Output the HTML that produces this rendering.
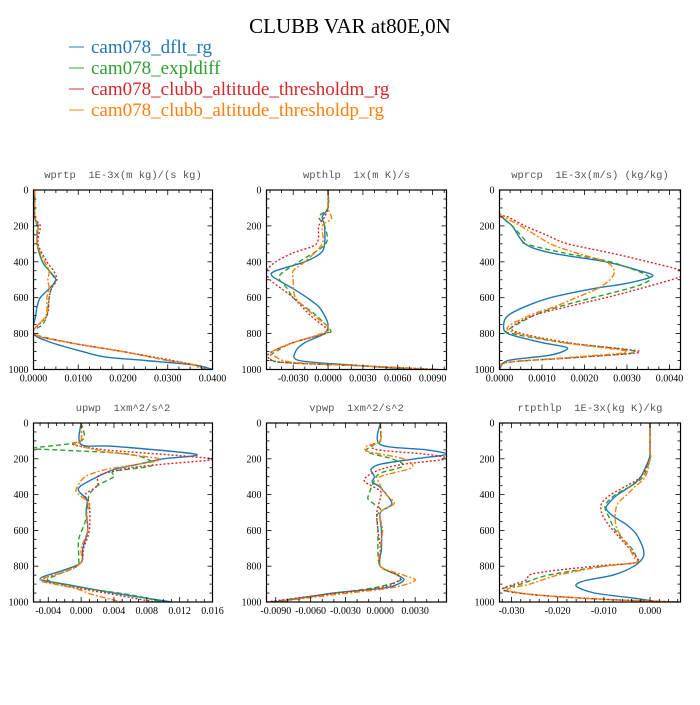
<!DOCTYPE html>
<html><head><meta charset="utf-8"><style>
body{margin:0;background:#fff;}
svg text{font-family:"Liberation Serif",serif;}
.pt{font-family:"Liberation Mono",monospace;font-size:10.5px;fill:#555;white-space:pre;}
.tk{font-size:10px;fill:#000;}
</style></head><body>
<svg id="fig" width="700" height="700" viewBox="0 0 700 700">
<rect width="700" height="700" fill="#fff"/>
<text x="350" y="33" text-anchor="middle" font-size="21">CLUBB VAR at80E,0N</text>
<g id="legend"></g>
<g id="panels"></g>
</svg>
<script>
const seriesNames=["cam078_dflt_rg","cam078_expldiff","cam078_clubb_altitude_thresholdm_rg","cam078_clubb_altitude_thresholdp_rg"];
const seriesColors=["#1f77b4","#2ca02c","#d62728","#ff7f0e"];
const seriesDash=["","5,3","2,2","6,2,2,2"];
const yTicks=[0,200,400,600,800,1000];

// Panel 1: wprtp
const p1Lev=[[0,150,200,300,400,450,500,550,600,650,700,800,850,900,930,950,975,1000],[0,150,200,300,400,450,500,550,600,700,750,800,850,900,950,975,1000],[0,150,200,300,400,450,500,550,600,700,800,850,900,950,975,1000],[0,150,200,300,400,450,500,550,600,700,800,850,900,950,975,1000]];
const p1Blue=[0.0003,0.0003,0.001,0.0008,0.002,0.0035,0.005,0.0035,0.0015,0.0008,0.0005,0,0.004,0.011,0.016,0.025,0.036,0.040];
const p1Green=[0.0003,0.0003,0.0008,0.0008,0.002,0.0035,0.0048,0.004,0.0035,0.003,0.002,0,0.008,0.020,0.030,0.036,0.038];
const p1Red=[0.0003,0.0003,0.0015,0.001,0.003,0.0045,0.0052,0.004,0.0035,0.003,0,0.008,0.020,0.031,0.036,0.039];
const p1Orange=[0.0003,0.0003,0.001,0.0008,0.0025,0.0035,0.0032,0.0035,0.003,0.0028,0,0.008,0.020,0.030,0.036,0.037];
const p1Ticks=[0,0.01,0.02,0.03,0.04];const p1Labels=["0.0000","0.0100","0.0200","0.0300","0.0400"];

// Panel 2: wpthlp
const p2Lev=[[0,100,150,200,300,350,400,450,480,550,600,650,700,750,800,850,900,950,975,1000],[0,100,150,200,300,400,480,550,600,650,700,780,800,850,900,930,960,980,1000],[0,100,150,200,300,350,400,450,500,550,600,700,780,800,850,900,930,960,980,1000],[0,100,160,200,300,400,450,500,600,700,780,850,900,930,960,980,1000]];
const p2Blue=[0,0,-0.0005,-0.0003,-0.0003,-0.0006,-0.002,-0.0045,-0.0048,-0.003,-0.0018,-0.0008,-0.0003,0,-0.0003,-0.002,-0.0028,-0.0025,0.002,0.0075];
const p2Green=[0,0,-0.0008,-0.0003,-0.0002,-0.0025,-0.0042,-0.0035,-0.003,-0.002,-0.001,0.0002,-0.0002,-0.003,-0.0045,-0.005,-0.004,0.003,0.009];
const p2Red=[0,0,-0.0003,-0.0008,-0.001,-0.003,-0.0045,-0.0053,-0.005,-0.004,-0.003,-0.0015,0,-0.0003,-0.003,-0.0048,-0.0052,-0.004,0.003,0.0095];
const p2Orange=[0,0,0.0003,-0.0005,-0.0005,-0.002,-0.003,-0.003,-0.0028,-0.0012,0,-0.003,-0.0048,-0.0045,-0.003,0.003,0.0095];
const p2Ticks=[-0.003,0,0.003,0.006,0.009];const p2Labels=["-0.0030","0.0000","0.0030","0.0060","0.0090"];

// Panel 3: wprcp
const p3Lev=[[0,130,200,300,350,400,450,480,520,550,600,650,700,750,800,850,880,920,950,1000],[0,130,200,280,300,350,400,480,530,600,650,700,780,800,850,900,930,960,1000],[0,130,150,200,250,300,350,400,450,480,550,600,650,700,780,850,900,930,960,1000],[0,130,150,200,300,350,400,450,500,550,600,650,700,780,850,900,930,960,1000]];
const p3Blue=[0,0,0.0003,0.0006,0.0012,0.0025,0.0033,0.0036,0.003,0.0022,0.0012,0.0006,0.0002,0.0001,0.0002,0.001,0.0016,0.0012,0.0002,0];
const p3Green=[0,0,0.0003,0.0006,0.0006,0.0015,0.0026,0.0035,0.0033,0.0022,0.0014,0.0008,0.0002,0.0003,0.0015,0.0032,0.002,0.0002,0];
const p3Red=[0,0,0.0002,0.0006,0.0011,0.0016,0.0026,0.0035,0.0043,0.0043,0.0033,0.0025,0.0016,0.0008,0.0003,0.0016,0.0033,0.002,0.0002,0];
const p3Orange=[0,0,0.0001,0.0005,0.0012,0.0018,0.0025,0.0027,0.0026,0.0023,0.0018,0.0013,0.0007,0.0002,0.0015,0.003,0.0018,0.0002,0];
const p3Ticks=[0,0.001,0.002,0.003,0.004];const p3Labels=["0.0000","0.0010","0.0020","0.0030","0.0040"];

// Panel 4: upwp
const p4Lev=[[0,120,130,175,200,230,260,300,350,380,430,500,600,700,780,820,870,900,950,1000],[0,100,140,150,170,200,240,270,300,350,400,450,550,650,750,800,850,880,920,960,1000],[0,100,120,150,190,205,230,250,280,300,350,400,450,600,700,780,830,870,900,950,1000],[0,100,120,160,200,230,260,300,360,390,450,500,600,700,780,830,880,920,960,1000]];
const p4Blue=[0,0,0.004,0.014,0.010,0.007,0.004,0.002,0,-0.0003,0.0007,0.0006,0.0008,0.0002,0,-0.002,-0.005,-0.002,0.004,0.011];
const p4Green=[0,0,-0.0058,-0.003,0.005,0.008,0.0085,0.004,0.004,0.002,0.001,0.0008,0.0005,-0.0003,-0.0003,-0.0005,-0.003,-0.004,0,0.006,0.010];
const p4Red=[0,0,-0.001,0.003,0.014,0.016,0.010,0.006,0.003,0.002,0.002,0.0005,0.001,0.001,0.0003,0,-0.002,-0.0045,-0.003,0.003,0.009];
const p4Orange=[0,0,-0.0008,0.003,0.0095,0.007,0.003,0.0005,-0.0005,-0.0005,0.001,0.0007,0.0008,0,0,-0.002,-0.005,-0.001,0.0015,0.005];
const p4Ticks=[-0.004,0,0.004,0.008,0.012,0.016];const p4Labels=["-0.004","0.000","0.004","0.008","0.012","0.016"];

// Panel 5: vpwp
const p5Lev=[[0,120,150,175,200,230,260,300,330,360,450,500,600,700,800,850,880,920,950,1000],[0,100,120,160,200,240,280,320,400,430,480,520,600,700,800,850,880,920,960,1000],[0,100,120,150,175,200,230,260,300,330,380,420,500,600,700,800,850,880,920,960,1000],[0,100,130,160,200,250,300,350,400,450,500,600,700,800,850,880,920,960,1000]];
const p5Blue=[0,0,0.004,0.0057,0.003,0,-0.0008,-0.0005,-0.0007,0,0.001,0,0.0001,0.0001,0,0.0015,0.002,0.0005,-0.004,-0.009];
const p5Green=[0,0,-0.0005,-0.0012,0.001,0.002,0,-0.0005,-0.001,-0.001,0,-0.0003,-0.0002,-0.0002,0,0.0015,0.0017,-0.0005,-0.005,-0.0095];
const p5Red=[0,0,-0.0008,-0.0002,0.004,0.0057,0.002,0,-0.0012,-0.0013,0,0,-0.0003,-0.0002,0,0,0.0015,0.0016,0,-0.005,-0.0098];
const p5Orange=[0,0,-0.0012,-0.001,0.002,0.0027,0,0,0.0005,0.0012,0,0.0002,0,0,0.002,0.003,0.001,-0.004,-0.009];
const p5Ticks=[-0.009,-0.006,-0.003,0,0.003];const p5Labels=["-0.0090","-0.0060","-0.0030","0.0000","0.0030"];

// Panel 6: rtpthlp
const p6Lev=[[0,150,200,300,350,400,450,480,520,570,620,700,750,800,850,880,910,950,980,1000],[0,150,200,300,350,400,450,480,520,600,700,750,780,800,850,900,930,960,985,1000],[0,150,200,300,350,400,450,500,550,600,700,750,780,800,840,880,930,960,985,1000],[0,150,200,300,350,400,450,500,550,600,700,750,780,800,850,900,930,960,985,1000]];
const p6Blue=[0,0,-0.0002,-0.002,-0.004,-0.007,-0.009,-0.0095,-0.008,-0.005,-0.003,-0.0015,-0.0015,-0.0035,-0.008,-0.014,-0.016,-0.012,-0.003,0.002];
const p6Green=[0,0,0,-0.0015,-0.004,-0.0075,-0.0095,-0.0097,-0.009,-0.0075,-0.004,-0.003,-0.003,-0.01,-0.022,-0.028,-0.032,-0.025,-0.01,0.006];
const p6Red=[0,0,0,-0.002,-0.005,-0.0085,-0.0105,-0.0105,-0.0095,-0.008,-0.0045,-0.003,-0.003,-0.012,-0.025,-0.027,-0.032,-0.025,-0.01,0.006];
const p6Orange=[0,0,0,-0.001,-0.003,-0.005,-0.007,-0.0075,-0.0075,-0.007,-0.0045,-0.0035,-0.003,-0.01,-0.02,-0.026,-0.031,-0.025,-0.01,0.006];
const p6Ticks=[-0.03,-0.02,-0.01,0];const p6Labels=["-0.030","-0.020","-0.010","0.000"];

const panels=[
 {name:"wprtp",title:"wprtp  1E-3x(m kg)/(s kg)",x0:33.5,x1:212.5,y0:190,y1:369.5,xmin:0,xmax:0.040,lev:p1Lev,vals:[p1Blue,p1Green,p1Red,p1Orange],ticks:p1Ticks,labels:p1Labels,minor:4},
 {name:"wpthlp",title:"wpthlp  1x(m K)/s",x0:266.5,x1:446.5,y0:190,y1:369.5,xmin:-0.0053,xmax:0.0102,lev:p2Lev,vals:[p2Blue,p2Green,p2Red,p2Orange],ticks:p2Ticks,labels:p2Labels,minor:3},
 {name:"wprcp",title:"wprcp  1E-3x(m/s) (kg/kg)",x0:499.5,x1:680.5,y0:190,y1:369.5,xmin:0,xmax:0.00426,lev:p3Lev,vals:[p3Blue,p3Green,p3Red,p3Orange],ticks:p3Ticks,labels:p3Labels,minor:4},
 {name:"upwp",title:"upwp  1xm^2/s^2",x0:33.5,x1:212.5,y0:423,y1:602,xmin:-0.0058,xmax:0.016,lev:p4Lev,vals:[p4Blue,p4Green,p4Red,p4Orange],ticks:p4Ticks,labels:p4Labels,minor:4},
 {name:"vpwp",title:"vpwp  1xm^2/s^2",x0:266.5,x1:446.5,y0:423,y1:602,xmin:-0.0098,xmax:0.0057,lev:p5Lev,vals:[p5Blue,p5Green,p5Red,p5Orange],ticks:p5Ticks,labels:p5Labels,minor:3},
 {name:"rtpthlp",title:"rtpthlp  1E-3x(kg K)/kg",x0:499.5,x1:680.5,y0:423,y1:602,xmin:-0.0326,xmax:0.0066,lev:p6Lev,vals:[p6Blue,p6Green,p6Red,p6Orange],ticks:p6Ticks,labels:p6Labels,minor:5}
];
const NS="http://www.w3.org/2000/svg";
function mk(tag,attrs,parent){const e=document.createElementNS(NS,tag);for(const k in attrs)e.setAttribute(k,attrs[k]);parent.appendChild(e);return e;}
function smooth(pts){
 let d="M"+pts[0][0].toFixed(1)+","+pts[0][1].toFixed(1);
 for(let i=0;i<pts.length-1;i++){
  const p0=pts[Math.max(0,i-1)],p1=pts[i],p2=pts[i+1],p3=pts[Math.min(pts.length-1,i+2)];
  const t=0.15;
  const c1=[p1[0]+(p2[0]-p0[0])*t,p1[1]+(p2[1]-p0[1])*t];
  const c2=[p2[0]-(p3[0]-p1[0])*t,p2[1]-(p3[1]-p1[1])*t];
  d+="C"+c1[0].toFixed(1)+","+c1[1].toFixed(1)+" "+c2[0].toFixed(1)+","+c2[1].toFixed(1)+" "+p2[0].toFixed(1)+","+p2[1].toFixed(1);
 }
 return d;
}

const leg=document.getElementById("legend");
seriesNames.forEach((n,i)=>{
 const y=47+i*21;
 const ln=mk("line",{x1:69,x2:84,y1:y,y2:y,stroke:seriesColors[i],"stroke-width":1.2,"stroke-opacity":0.8},leg);
 
 
 const t=mk("text",{x:91,y:y+6,"font-size":19,fill:seriesColors[i]},leg);
 t.textContent=n;
 
 
});

const root=document.getElementById("panels");
panels.forEach(p=>{
 const g=mk("g",{},root);
 
 
 const xs=v=>p.x0+(v-p.xmin)/(p.xmax-p.xmin)*(p.x1-p.x0);
 const ys=v=>p.y0+v/1000*(p.y1-p.y0);
 const tt=mk("text",{x:(p.x0+p.x1)/2,y:p.y0-12,"text-anchor":"middle",class:"pt","xml:space":"preserve"},g);
 tt.textContent=p.title;
 
 
 const clipId="c"+p.name;
 const cp=mk("clipPath",{id:clipId},g);mk("rect",{x:p.x0,y:p.y0,width:p.x1-p.x0,height:p.y1-p.y0},cp);
 const sg=mk("g",{"clip-path":"url(#"+clipId+")"},g);
 p.vals.forEach((vals,i)=>{
  const pts=vals.map((v,j)=>[xs(v),ys(p.lev[i][j])]);
  const path=mk("path",{d:smooth(pts),fill:"none",stroke:seriesColors[i],"stroke-width":1.4,"stroke-dasharray":seriesDash[i],"stroke-linejoin":"round"},sg);
  
  
 });
 const fr=mk("rect",{x:p.x0,y:p.y0,width:p.x1-p.x0,height:p.y1-p.y0,fill:"none",stroke:"#000","stroke-width":1.2},g);
 
 
 for(let v=0;v<=1000;v+=50){
  const y=ys(v),L=(v%200===0)?5:3;
  mk("line",{x1:p.x0,x2:p.x0+L,y1:y,y2:y,stroke:"#000","stroke-width":0.8},g);
  mk("line",{x1:p.x1,x2:p.x1-L,y1:y,y2:y,stroke:"#000","stroke-width":0.8},g);
 }
 yTicks.forEach(v=>{
  const t=mk("text",{x:p.x0-5,y:ys(v)+3.5,"text-anchor":"end",class:"tk"},g);
  t.textContent=v;
  
  
 });
 const step=p.ticks[1]-p.ticks[0];
 const ms=step/p.minor;
 for(let k=-40;k<=80;k++){
  const v=p.ticks[0]+k*ms;
  if(v<p.xmin-1e-12||v>p.xmax+1e-12)continue;
  const x=xs(v),L=(k%p.minor===0)?5:3;
  mk("line",{x1:x,x2:x,y1:p.y1,y2:p.y1-L,stroke:"#000","stroke-width":0.8},g);
  mk("line",{x1:x,x2:x,y1:p.y0,y2:p.y0+L,stroke:"#000","stroke-width":0.8},g);
 }
 p.ticks.forEach((v,i)=>{
  const t=mk("text",{x:xs(v),y:p.y1+12,"text-anchor":"middle",class:"tk"},g);
  t.textContent=p.labels[i];
  
  
 });
});
</script>
</body></html>
